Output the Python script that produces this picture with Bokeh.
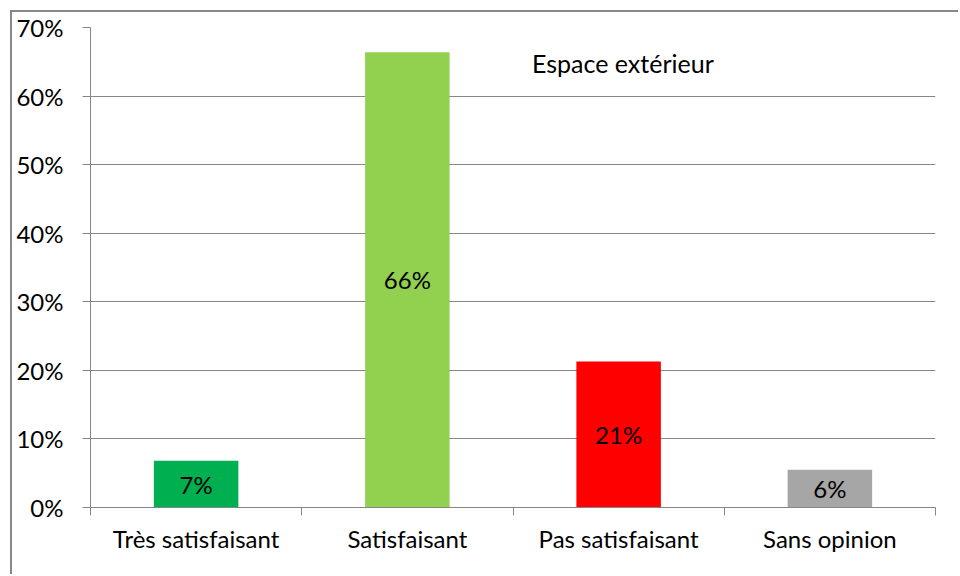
from bokeh.plotting import figure
from bokeh.models import FixedTicker, LinearAxis, Range1d, Label, ColumnDataSource
from bokeh.embed import file_html
from bokeh.resources import INLINE
from bokeh.core.properties import value

categories = ["Très satisfaisant", "Satisfaisant", "Pas satisfaisant", "Sans opinion"]
values = [6.8, 66.4, 21.3, 5.5]
bar_labels = ["7%", "66%", "21%", "6%"]
colors = ["#00B050", "#92D050", "#FF0000", "#A6A6A6"]
y_ticks = [0, 10, 20, 30, 40, 50, 60, 70]
y_tick_labels = ["0%", "10%", "20%", "30%", "40%", "50%", "60%", "70%"]
chart_title = "Espace extérieur"

FONT = "Lato"
GRAY = "#868686"
FS = "24px"

xpos = [i + 0.5 for i in range(len(categories))]
src = ColumnDataSource(dict(x=xpos, top=values, ymid=[v / 2 for v in values],
                            color=colors, label=bar_labels))

p = figure(width=948, height=564, x_range=Range1d(0, len(categories)), y_range=Range1d(0, 70),
           output_backend="svg", toolbar_location=None,
           min_border_left=78, min_border_right=25, min_border_top=15, min_border_bottom=69)
p.outline_line_color = None
p.styles = {"margin-left": "10px", "margin-top": "10px",
            "border-left": "2px solid #878787", "border-top": "2px solid #878787"}

p.vbar(x="x", top="top", bottom=0, width=0.4, color="color", line_color=None, source=src)
p.text(x="x", y="ymid", text="label", source=src, text_align="center", text_baseline="middle",
       text_font=value(FONT), text_font_size=FS, text_color="black")

# y axis
yax = p.yaxis[0]
yax.ticker = FixedTicker(ticks=y_ticks)
yax.major_label_overrides = {t: l for t, l in zip(y_ticks, y_tick_labels)}
yax.axis_line_color = GRAY
yax.major_tick_line_color = GRAY
yax.major_tick_in = 0
yax.major_tick_out = 8
yax.minor_tick_line_color = None
yax.major_label_standoff = 19
yax.major_label_text_font = FONT
yax.major_label_text_font_size = FS
yax.major_label_text_color = "black"

p.ygrid.ticker = FixedTicker(ticks=y_ticks)
p.ygrid.grid_line_color = GRAY
p.xgrid.visible = False

# x axis with ticks at category boundaries
xax = p.xaxis[0]
bounds = list(range(len(categories) + 1))
xax.ticker = FixedTicker(ticks=bounds)
xax.major_label_overrides = {b: "" for b in bounds}
xax.major_label_text_font_size = "1px"
xax.major_label_standoff = 0
xax.axis_line_color = GRAY
xax.major_tick_line_color = GRAY
xax.major_tick_in = 0
xax.major_tick_out = 8
xax.minor_tick_line_color = None

# category labels
cax = LinearAxis(ticker=FixedTicker(ticks=xpos),
                 major_label_overrides={x: c for x, c in zip(xpos, categories)})
cax.axis_line_color = None
cax.major_tick_line_color = None
cax.minor_tick_line_color = None
cax.major_label_standoff = 2
cax.major_label_text_font = FONT
cax.major_label_text_font_size = FS
cax.major_label_text_color = "black"
p.add_layout(cax, "below")

p.add_layout(Label(x=2.09, y=64.8, text=chart_title, text_align="left", text_baseline="middle",
                   text_font=FONT, text_font_size="25px", text_color="black"))

open("out.html", "w").write(file_html(p, INLINE))
